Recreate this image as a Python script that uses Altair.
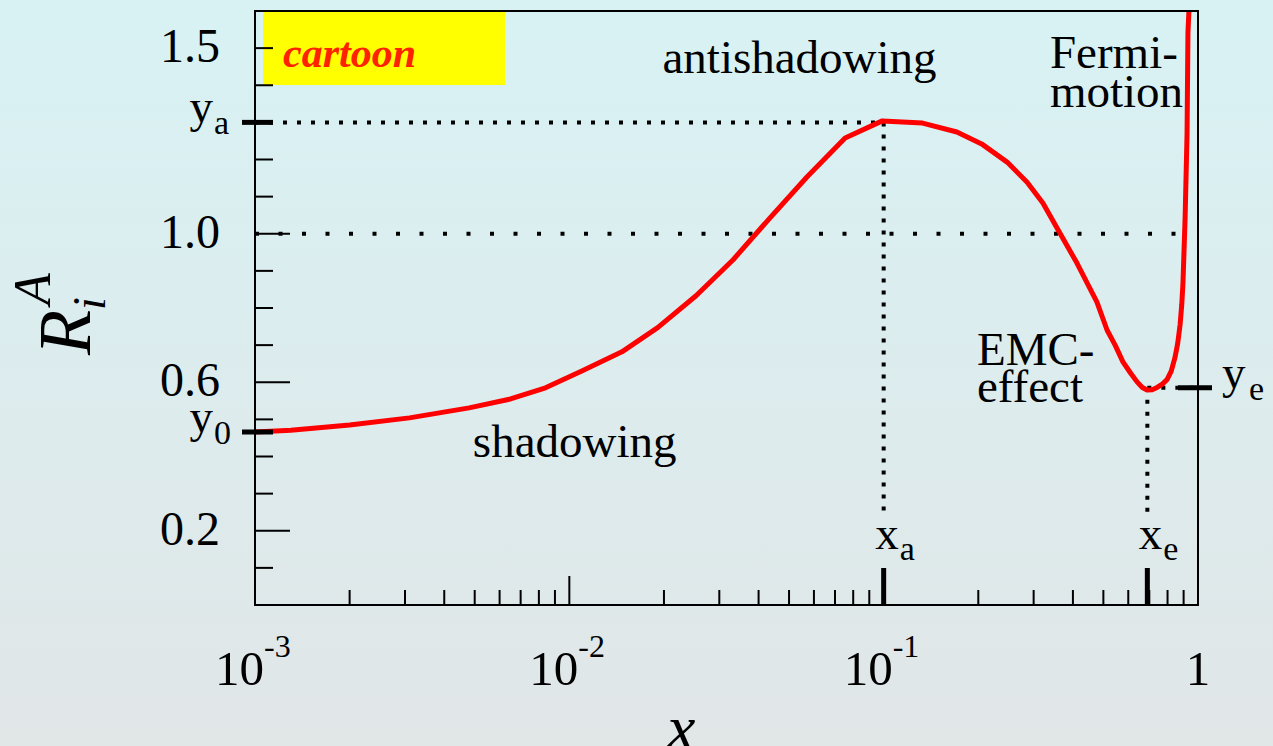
import altair as alt
import pandas as pd

# ---------------- data ----------------
curve_x = [0.001, 0.0013, 0.002, 0.0031, 0.0048, 0.0065, 0.0084, 0.011, 0.0147,
           0.0191, 0.0253, 0.0332, 0.0435, 0.057, 0.0754, 0.099, 0.133, 0.171,
           0.205, 0.247, 0.286, 0.321, 0.359, 0.412, 0.477, 0.514, 0.545, 0.577,
           0.610, 0.640, 0.665, 0.689, 0.715, 0.741, 0.770, 0.797, 0.822, 0.845,
           0.862, 0.877, 0.888, 0.896, 0.910, 0.923, 0.929, 0.936]
curve_y = [0.466, 0.471, 0.485, 0.504, 0.531, 0.555, 0.585, 0.631, 0.682,
           0.747, 0.833, 0.930, 1.043, 1.153, 1.258, 1.304, 1.298, 1.274,
           1.242, 1.193, 1.139, 1.083, 1.010, 0.921, 0.816, 0.740, 0.700, 0.655,
           0.625, 0.601, 0.586, 0.579, 0.580, 0.586, 0.595, 0.607, 0.630, 0.667,
           0.705, 0.755, 0.810, 0.870, 1.045, 1.271, 1.541, 1.603]

y_label_vals = [0.2, 0.6, 1.0, 1.5]
y_label_text = ["0.2", "0.6", "1.0", "1.5"]
y_minor_ticks = [0.1, 0.3, 0.4, 0.5, 0.7, 0.8, 0.9, 1.1, 1.2, 1.4, 1.5]
y_major_ticks = [0.2, 0.6, 1.0]

x_minor_ticks = [0.002, 0.003, 0.004, 0.005, 0.006, 0.007, 0.008, 0.009,
                 0.02, 0.03, 0.04, 0.05, 0.06, 0.07, 0.08, 0.09,
                 0.2, 0.3, 0.4, 0.5, 0.6, 0.7, 0.8, 0.9]
x_major_ticks = [0.01, 0.1]
x_decades = [0.001, 0.01, 0.1]
x_decade_exp = ["-3", "-2", "-1"]

x_a, y_a = 0.1, 1.3
x_e, y_e = 0.69, 0.585
y_0 = 0.466
x_min, x_max = 0.001, 1.0
ref_line_end = 0.88
drop_bottom = 0.25

FONT = "Liberation Serif"
W, H = 943, 594

xs = alt.Scale(type="log", domain=[x_min, x_max])
ys = alt.Scale(domain=[0, 1.6], zero=False, nice=False)


def X(field):
    return alt.X(field, type="quantitative", scale=xs, axis=None)


def Y(field):
    return alt.Y(field, type="quantitative", scale=ys, axis=None)


one = pd.DataFrame({"k": [0]})

# background gradient
bg = alt.Chart(one).mark_rect(
    clip=False,
    color=alt.LinearGradient(
        gradient="linear",
        stops=[alt.GradientStop(color="#d8f2f4", offset=0),
               alt.GradientStop(color="#e1e6e7", offset=1)],
        x1=0, x2=0, y1=0, y2=1),
).encode(x=alt.value(-255), x2=alt.value(1018), y=alt.value(-11), y2=alt.value(735))

# yellow cartoon box
box = alt.Chart(one).mark_rect(color="#ffff00").encode(
    x=alt.value(8), x2=alt.value(250), y=alt.value(1), y2=alt.value(74))

# dotted lines
hdots1 = alt.Chart(pd.DataFrame({"x0": [x_min], "x1": [ref_line_end], "y": [1.0]})).mark_rule(
    color="black", strokeWidth=4, strokeDash=[4, 19.5]).encode(x=X("x0"), x2="x1", y=Y("y"))
hdots_a = alt.Chart(pd.DataFrame({"x0": [x_min], "x1": [x_a], "y": [y_a]})).mark_rule(
    color="black", strokeWidth=4, strokeDash=[4, 10]).encode(x=X("x0"), x2="x1", y=Y("y"))
hdots_e = alt.Chart(pd.DataFrame({"x0": [x_e], "x1": [x_max], "y": [y_e]})).mark_rule(
    color="black", strokeWidth=4, strokeDash=[4, 10]).encode(x=X("x0"), x2="x1", y=Y("y"))
vdots = alt.Chart(pd.DataFrame({"x": [x_a, x_e], "y0": [y_a, y_e], "y1": [drop_bottom, drop_bottom]})).mark_rule(
    color="black", strokeWidth=4, strokeDash=[4, 8]).encode(x=X("x"), y=Y("y0"), y2="y1")

# ticks
ytick_minor = alt.Chart(pd.DataFrame({"y": y_minor_ticks})).mark_rule(color="black", strokeWidth=2).encode(
    y=Y("y"), x=alt.value(0), x2=alt.value(18))
ytick_major = alt.Chart(pd.DataFrame({"y": y_major_ticks})).mark_rule(color="black", strokeWidth=2).encode(
    y=Y("y"), x=alt.value(0), x2=alt.value(35))
xtick_minor = alt.Chart(pd.DataFrame({"x": x_minor_ticks})).mark_rule(color="black", strokeWidth=2).encode(
    x=X("x"), y=alt.value(H), y2=alt.value(H - 15))
xtick_major = alt.Chart(pd.DataFrame({"x": x_major_ticks})).mark_rule(color="black", strokeWidth=2).encode(
    x=X("x"), y=alt.value(H), y2=alt.value(H - 29))

# curve
curve = alt.Chart(pd.DataFrame({"x": curve_x, "y": curve_y})).mark_line(
    color="#ff0000", strokeWidth=5, clip=True, strokeJoin="round").encode(
    x=X("x"), y=Y("y"), order=alt.Order("x:Q"))

# thick special ticks
thick_y_left = alt.Chart(pd.DataFrame({"y": [y_a, y_0]})).mark_rule(color="black", strokeWidth=5).encode(
    y=Y("y"), x=alt.value(-13), x2=alt.value(18))
thick_y_right = alt.Chart(pd.DataFrame({"y": [y_e]})).mark_rule(color="black", strokeWidth=5).encode(
    y=Y("y"), x=alt.value(923), x2=alt.value(957))
thick_x = alt.Chart(pd.DataFrame({"x": [x_a, x_e]})).mark_rule(color="black", strokeWidth=5).encode(
    x=X("x"), y=alt.value(H), y2=alt.value(H - 37))

frame = alt.Chart(one).mark_rect(filled=False, color="black", strokeWidth=2).encode(
    x=alt.value(0), x2=alt.value(W), y=alt.value(0), y2=alt.value(H))

layers = [bg, box, hdots1, hdots_a, hdots_e, vdots, ytick_minor, ytick_major,
          xtick_minor, xtick_major, curve, thick_y_left, thick_y_right, thick_x, frame]


def text_layer(df, enc, **kw):
    base = dict(font=FONT, fontSize=47, color="black")
    base.update(kw)
    return alt.Chart(df).mark_text(**base).encode(**enc)


# y tick labels
layers.append(text_layer(pd.DataFrame({"y": y_label_vals, "t": y_label_text}),
                         dict(y=Y("y"), x=alt.value(-35), text="t:N"), align="right", baseline="middle",
                         fontSize=48))

# y_a, y_0 labels
layers.append(text_layer(pd.DataFrame({"y": [y_a, y_0], "t": ["y", "y"]}),
                         dict(y=Y("y"), x=alt.value(-42), text="t:N"), align="right", baseline="alphabetic"))
layers.append(text_layer(pd.DataFrame({"y": [y_a, y_0], "t": ["a", "0"]}),
                         dict(y=Y("y"), x=alt.value(-42), text="t:N"), align="left", baseline="alphabetic",
                         fontSize=34, dy=12, dx=1))
# y_e label
layers.append(text_layer(pd.DataFrame({"y": [y_e], "t": ["y"]}),
                         dict(y=Y("y"), x=alt.value(967), text="t:N"), align="left", baseline="alphabetic"))
layers.append(text_layer(pd.DataFrame({"y": [y_e], "t": ["e"]}),
                         dict(y=Y("y"), x=alt.value(994), text="t:N"), align="left", baseline="alphabetic",
                         fontSize=34, dy=12))

# x_a, x_e labels
layers.append(text_layer(pd.DataFrame({"x": [x_a, x_e], "t": ["x", "x"]}),
                         dict(x=X("x"), y=alt.value(538), text="t:N"), align="right", baseline="alphabetic", dx=15))
layers.append(text_layer(pd.DataFrame({"x": [x_a, x_e], "t": ["a", "e"]}),
                         dict(x=X("x"), y=alt.value(549), text="t:N"), align="left", baseline="alphabetic",
                         fontSize=34, dx=16))

# x tick labels
layers.append(text_layer(pd.DataFrame({"x": x_decades, "t": ["10"] * 3}),
                         dict(x=X("x"), y=alt.value(674), text="t:N"), align="right", baseline="alphabetic",
                         dx=9, fontSize=49))
layers.append(text_layer(pd.DataFrame({"x": x_decades, "t": x_decade_exp}),
                         dict(x=X("x"), y=alt.value(646), text="t:N"), align="left", baseline="alphabetic",
                         fontSize=32, dx=9))
layers.append(text_layer(pd.DataFrame({"x": [x_max], "t": ["1"]}),
                         dict(x=X("x"), y=alt.value(674), text="t:N"), align="center", baseline="alphabetic",
                         fontSize=49))

# axis titles
layers.append(text_layer(one.assign(t="x"), dict(x=alt.value(412), y=alt.value(738), text="t:N"),
                         align="left", baseline="alphabetic", fontSize=64, fontStyle="italic"))
layers.append(text_layer(one.assign(t="R"), dict(x=alt.value(-165), y=alt.value(344), text="t:N"),
                         align="left", baseline="alphabetic", fontSize=74, fontStyle="italic", angle=270))
layers.append(text_layer(one.assign(t="i"), dict(x=alt.value(-150), y=alt.value(299), text="t:N"),
                         align="left", baseline="alphabetic", fontSize=46, fontStyle="italic", angle=270))
layers.append(text_layer(one.assign(t="A"), dict(x=alt.value(-205), y=alt.value(294), text="t:N"),
                         align="left", baseline="alphabetic", fontSize=52, fontStyle="italic", angle=270))

# cartoon label
layers.append(text_layer(one.assign(t="cartoon"), dict(x=alt.value(28), y=alt.value(56), text="t:N"),
                         align="left", baseline="alphabetic", fontSize=42, fontStyle="italic",
                         fontWeight="bold", color="#ff2200"))

# annotations (anchored in data coordinates)
ann_center = pd.DataFrame({"x": [0.054, 0.0104], "y": [1.433, 0.40], "t": ["antishadowing", "shadowing"]})
layers.append(text_layer(ann_center, dict(x=X("x"), y=Y("y"), text="t:N"), align="center", baseline="alphabetic"))
ann_left = pd.DataFrame({"x": [0.198, 0.198, 0.338, 0.338], "y": [0.646, 0.547, 1.446, 1.341],
                         "t": ["EMC-", "effect", "Fermi-", "motion"]})
layers.append(text_layer(ann_left, dict(x=X("x"), y=Y("y"), text="t:N"), align="left", baseline="alphabetic"))

chart = alt.layer(*layers).properties(
    width=W, height=H,
    autosize=alt.AutoSizeParams(type="none"),
    padding={"left": 255, "top": 11, "right": 75, "bottom": 141},
    background="#e1e6e7",
).configure_view(strokeWidth=0)

chart.save("out.html", embed_options={"renderer": "svg", "actions": False})
